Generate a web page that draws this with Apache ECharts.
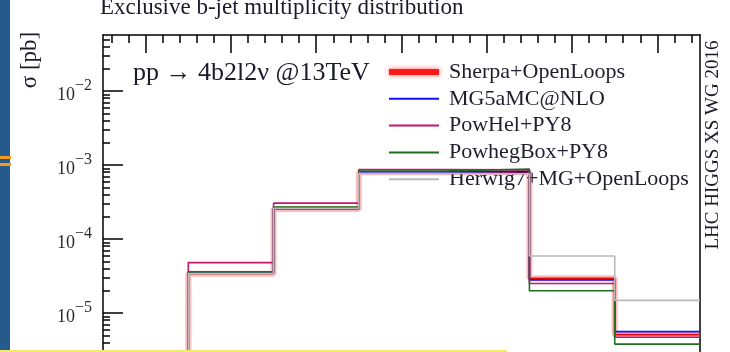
<!DOCTYPE html>
<html><head><meta charset="utf-8">
<script src="https://cdn.jsdelivr.net/npm/echarts@6/dist/echarts.min.js"></script>
<style>html,body{margin:0;padding:0;background:#fff}#c{width:730px;height:352px}</style>
</head><body><div id="c"></div>
<script>
// ---- data ----
const binEdges = [0.5, 1.5, 2.5, 3.5, 4.5, 5.5, 6.5];   // b-jet multiplicity bins 1..6
const emptyBinFloor = 1e-9;                                 // 0-jet bin empty (off the axis)
const sherpa = [3.4e-5, 2.55e-4, 8.0e-4, 8.0e-4, 2.95e-5, 5.1e-6];
const mg5    = [3.5e-5, 2.6e-4, 8.0e-4, 8.2e-4, 2.8e-5, 5.6e-6];
const powhel = [4.8e-5, 3.05e-4, 8.7e-4, 8.6e-4, 2.5e-5, 4.7e-6];
const powheg = [3.6e-5, 2.7e-4, 8.3e-4, 8.8e-4, 2.0e-5, 3.8e-6];
const herwig = [3.4e-5, 2.6e-4, 7.7e-4, 7.6e-4, 5.9e-5, 1.48e-5];
const seriesNames = ['Sherpa+OpenLoops', 'MG5aMC@NLO', 'PowHel+PY8', 'PowhegBox+PY8', 'Herwig7+MG+OpenLoops'];
const xMajorTicks = [0, 1, 2, 3, 4, 5, 6];
const xMinorTicks = [];
for (let i = -2; i <= 32; i++) { const v = +(i * 0.2).toFixed(1); if (v > -0.5 && v < 6.5 && Math.abs(v - Math.round(v)) > 1e-6) xMinorTicks.push(v); }
const yDecades = [1e-5, 1e-4, 1e-3, 1e-2];
const yLabelValues = [1e-5, 1e-4, 1e-3, 1e-2];
const yMin = 2.972e-6, yMax = 0.05711;
const yMinorTicks = [];
[1e-6, 1e-5, 1e-4, 1e-3, 1e-2].forEach(d => { for (let m = 2; m <= 9; m++) { const v = +(m * d).toPrecision(3); if (v < yMax && v > yMin) yMinorTicks.push(v); } });

function histPoints(vals) {
  const pts = [[binEdges[0], emptyBinFloor]];
  vals.forEach((v, i) => pts.push([binEdges[i], v]));
  pts.push([binEdges[binEdges.length - 1], vals[vals.length - 1]]);
  return pts;
}

const FONT = 'Liberation Serif';
const chart = echarts.init(document.getElementById('c'), null, {renderer: 'canvas'});
function mkLine(name, vals, color, width, z) {
  return {
    type: 'line', name: name, data: histPoints(vals), step: 'end', symbol: 'none',
    xAxisIndex: 0, yAxisIndex: 0, animation: false, z: z, silent: true,
    lineStyle: {color: color, width: width}, itemStyle: {color: color}
  };
}
const frame = {show: true, onZero: false, lineStyle: {color: '#000', width: 1.5}};
const axisCommonX = {type: 'value', min: -0.5, max: 6.5, splitLine: {show: false}, axisLabel: {show: false},
  axisLine: {show: false, onZero: false}};
const axisCommonY = {type: 'log', logBase: 10, min: yMin, max: yMax, splitLine: {show: false}, position: 'left',
  axisLine: {show: false, onZero: false}, minorTick: {show: false}};

chart.setOption({
  animation: false,
  backgroundColor: '#fff',
  grid: {left: 103, right: 30, top: 35, bottom: 0, show: false},
  xAxis: [
    Object.assign({}, axisCommonX, {position: 'bottom', axisTick: {show: false}}),
    Object.assign({}, axisCommonX, {position: 'top', axisLine: frame, axisTick: {inside: true, length: 18, customValues: xMajorTicks, lineStyle: {color: '#000', width: 1.5}}}),
    Object.assign({}, axisCommonX, {position: 'top', axisTick: {inside: true, length: 8, customValues: xMinorTicks, lineStyle: {color: '#000', width: 1.5}}})
  ],
  yAxis: [
    Object.assign({}, axisCommonY, {
      axisLine: frame,
      axisTick: {inside: true, length: 20, customValues: yDecades, lineStyle: {color: '#000', width: 1.5}},
      axisLabel: {customValues: yLabelValues, margin: 11, color: '#333',
        formatter: function (v) { const e = Math.round(Math.log10(v)); return '{b|10}{e|\u2212' + (-e) + '}'; },
        rich: {b: {fontFamily: FONT, fontSize: 18, color: '#2a2a3a', verticalAlign: 'bottom', lineHeight: 26},
               e: {fontFamily: FONT, fontSize: 16, color: '#2a2a3a', verticalAlign: 'top', lineHeight: 26}}}
    }),
    Object.assign({}, axisCommonY, {
      axisTick: {inside: true, length: 7, customValues: yMinorTicks, lineStyle: {color: '#000', width: 1.5}},
      axisLabel: {show: false}
    }),
    Object.assign({}, axisCommonY, {position: 'right', axisLine: frame, axisTick: {show: false}, axisLabel: {show: false}})
  ],
  legend: {
    data: [
      {name: seriesNames[0], lineStyle: {color: '#ff1a1a', width: 6, shadowBlur: 5, shadowColor: 'rgba(255,80,80,0.9)'}},
      seriesNames[1], seriesNames[2], seriesNames[3], seriesNames[4]
    ],
    orient: 'vertical', left: 386, top: 61, padding: 0, itemWidth: 50, itemHeight: 14, itemGap: 4.8,
    selectedMode: false, itemStyle: {opacity: 0},
    textStyle: {fontFamily: FONT, fontSize: 22, color: '#1e1e2e', padding: [0, 0, 0, 5]}
  },
  series: [
    mkLine(seriesNames[0], sherpa, 'rgba(255,60,60,0.35)', 6, 1),
    mkLine('Sherpa core', sherpa, '#ff0000', 1.6, 2),
    mkLine(seriesNames[1], mg5, '#1010ff', 1.6, 3),
    mkLine(seriesNames[2], powhel, '#c8156a', 1.6, 4),
    mkLine(seriesNames[3], powheg, '#1f6f1f', 1.6, 5),
    mkLine(seriesNames[4], herwig, '#b9b9b9', 1.6, 6)
  ],
  graphic: [
    {type: 'rect', shape: {x: 0, y: 0, width: 10, height: 352}, style: {fill: '#265a8b'}, z: 100},
    {type: 'rect', shape: {x: 0, y: 156, width: 11, height: 3}, style: {fill: '#f39a1e'}, z: 101},
    {type: 'rect', shape: {x: 0, y: 163, width: 11, height: 3}, style: {fill: '#f39a1e'}, z: 101},
    {type: 'rect', shape: {x: 0, y: 350, width: 507, height: 2}, style: {fill: '#f6ea6a'}, z: 102},
    {type: 'text', x: 100, y: 8, z: 100, style: {text: 'Exclusive b-jet multiplicity distribution', font: '23px "Liberation Serif"', fill: '#1a1a2a', verticalAlign: 'middle', align: 'left'}},
    {type: 'text', x: 133, y: 73, z: 100, style: {text: 'pp \u2192 4b2l2\u03bd @13TeV', font: '26px "Liberation Serif"', fill: '#1a1a2a', verticalAlign: 'middle', align: 'left'}},
    {type: 'text', x: 30, y: 60, rotation: Math.PI / 2, z: 100, style: {text: '\u03c3 [pb]', font: '23px "Liberation Serif"', fill: '#1a1a2a', verticalAlign: 'middle', align: 'center'}},
    {type: 'text', x: 713, y: 145, rotation: Math.PI / 2, z: 100, style: {text: 'LHC HIGGS XS WG 2016', font: '19px "Liberation Serif"', fill: '#1a1a2a', verticalAlign: 'middle', align: 'center'}}
  ]
});
</script></body></html>
